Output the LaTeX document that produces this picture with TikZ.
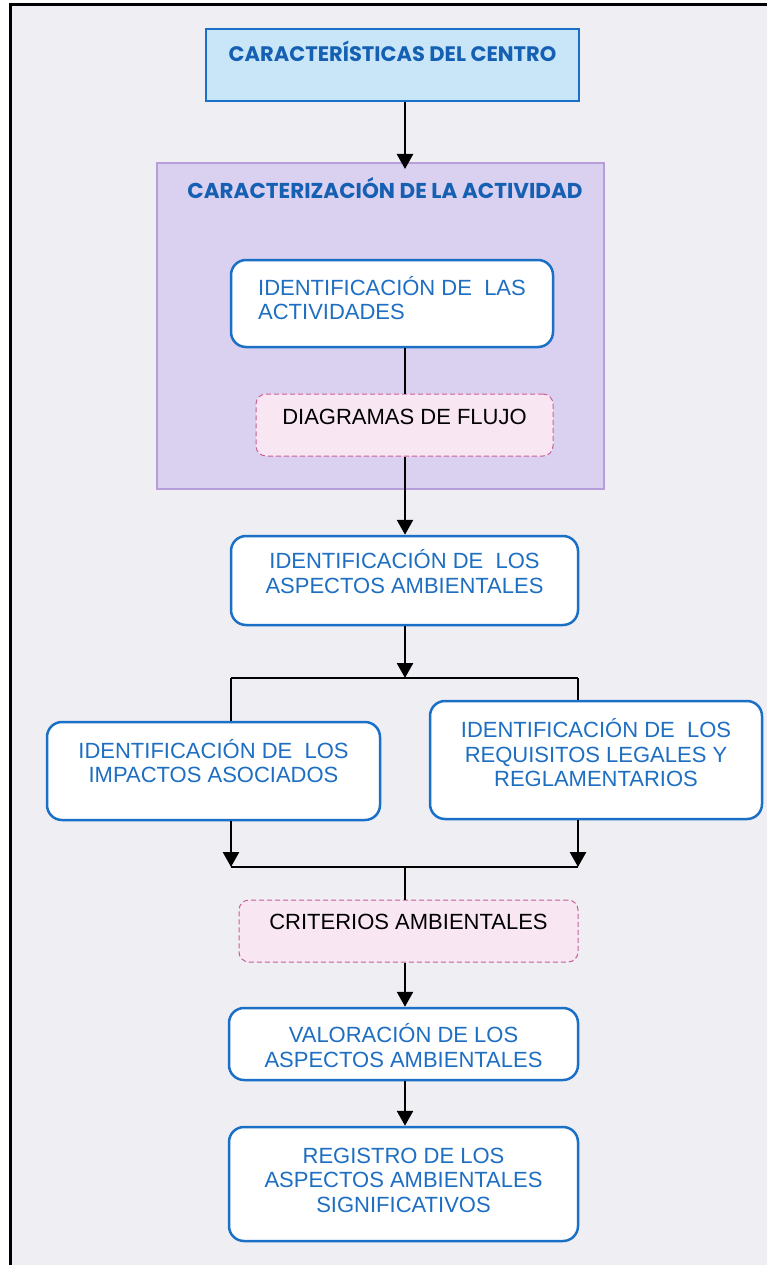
\documentclass[tikz,border=0pt]{standalone}
\usepackage{fontspec}
\setmainfont{Liberation Sans}
\newfontfamily\headfont{Poppins}
\usetikzlibrary{arrows.meta}
\definecolor{bgc}{HTML}{EFEEF2}
\definecolor{txtblue}{HTML}{1E6EC2}
\definecolor{headblue}{HTML}{1560B2}
\definecolor{bordblue}{HTML}{1A6FC6}
\definecolor{topfill}{HTML}{C9E6F8}
\definecolor{purpfill}{HTML}{DAD0F0}
\definecolor{purpbord}{HTML}{B89ED8}
\definecolor{pinkfill}{HTML}{F8E6F2}
\definecolor{pinkbord}{HTML}{C8609A}
\tikzset{
  procbox/.style={draw=bordblue, line width=2.5pt, fill=white, rounded corners=15pt,
    align=center, text=txtblue, font=\fontsize{22}{24.5}\selectfont, inner sep=0pt},
  notebox/.style={draw=pinkbord, line width=1pt, dashed, dash pattern=on 5pt off 3pt, fill=pinkfill,
    rounded corners=10pt, align=center, text=black, font=\fontsize{22}{24.5}\selectfont, inner sep=0pt},
  headtxt/.style={text=headblue, font=\headfont\bfseries\fontsize{21}{24}\selectfont},
  conn/.style={line width=2.6pt, black},
  arr/.style={conn, -{Triangle[width=16pt,length=15pt]}},
}
\begin{document}
\begin{tikzpicture}[x=1pt,y=-1pt]
\useasboundingbox (0,0) rectangle (767,1265);
\fill[bgc] (10,5) rectangle (767,1265);
\draw[line width=3pt] (10,1270) -- (10,5) -- (772,5);

% top box
\node[draw=bordblue, line width=2.5pt, fill=topfill, minimum width=373pt, text height=15pt, text depth=21pt, inner ysep=18pt, inner xsep=0pt, headtxt] (top) at (392.5,65) {CARACTERÍSTICAS DEL CENTRO};

% purple area
\node[draw=purpbord, line width=2pt, fill=purpfill, minimum width=447pt, minimum height=326pt, inner sep=0pt] (purple) at (380.5,326) {};
\node[headtxt, font=\headfont\bfseries\fontsize{21.5}{24}\selectfont, inner sep=0pt] (ptitle) at (385,188) {CARACTERIZACIÓN DE LA ACTIVIDAD};

\coordinate (sp) at (405,0);

\node[procbox, minimum width=322pt, minimum height=87pt, align=left] (act) at (392,303.5) {IDENTIFICACIÓN DE\ \ LAS\\ACTIVIDADES\\[-13.5pt]\mbox{}};
\node[notebox, minimum width=297pt, minimum height=62pt] (flujo) at (404.5,425) {DIAGRAMAS DE FLUJO\\[-8.5pt]\mbox{}};
\node[procbox, minimum width=347pt, minimum height=89pt] (asp) at (404.5,580.5) {IDENTIFICACIÓN DE\ \ LOS\\ASPECTOS AMBIENTALES\\[-6pt]\mbox{}};

\node[procbox, minimum width=333pt, minimum height=98pt] (left) at (213.5,771) {IDENTIFICACIÓN DE\ \ LOS\\IMPACTOS ASOCIADOS\\[-4pt]\mbox{}};
\node[procbox, minimum width=332pt, minimum height=118pt] (right) at (596,760) {IDENTIFICACIÓN DE\ \ LOS\\REQUISITOS LEGALES Y\\REGLAMENTARIOS\\[-10pt]\mbox{}};

\node[notebox, minimum width=339pt, minimum height=62pt] (crit) at (408.5,931) {CRITERIOS AMBIENTALES\\[-6.5pt]\mbox{}};
\node[procbox, minimum width=349pt, minimum height=72pt] (val) at (403.5,1044) {\mbox{}\\[-2.5pt]VALORACIÓN DE LOS\\ASPECTOS AMBIENTALES};
\node[procbox, minimum width=349pt, minimum height=114pt] (reg) at (403.5,1184) {REGISTRO DE LOS\\ASPECTOS AMBIENTALES\\SIGNIFICATIVOS\\[-16.5pt]\mbox{}};

\coordinate (L1) at (231,678);
\coordinate (R1) at (578,678);
\coordinate (M1) at (405,678);
\coordinate (L2) at (231,867);
\coordinate (R2) at (578,867);
\coordinate (M2) at (405,867);

% connectors
\draw[arr, shorten >=-7pt] (top.south -| sp) -- (purple.north -| sp);
\draw[conn] (act.south -| sp) -- (flujo.north -| sp);
\draw[arr] (flujo.south -| sp) -- (asp.north -| sp);
\draw[arr] (asp.south -| sp) -- (M1);
\draw[conn] (L1) -- (R1);
\draw[conn] (L1) -- (left.north -| L1);
\draw[conn] (R1) -- (right.north -| R1);
\draw[arr] (left.south -| L2) -- (L2);
\draw[arr] (right.south -| R2) -- (R2);
\draw[conn] (L2) -- (R2);
\draw[conn] (M2) -- (crit.north -| M2);
\draw[arr] (crit.south -| sp) -- (val.north -| sp);
\draw[arr] (val.south -| sp) -- (reg.north -| sp);
\end{tikzpicture}
\end{document}
